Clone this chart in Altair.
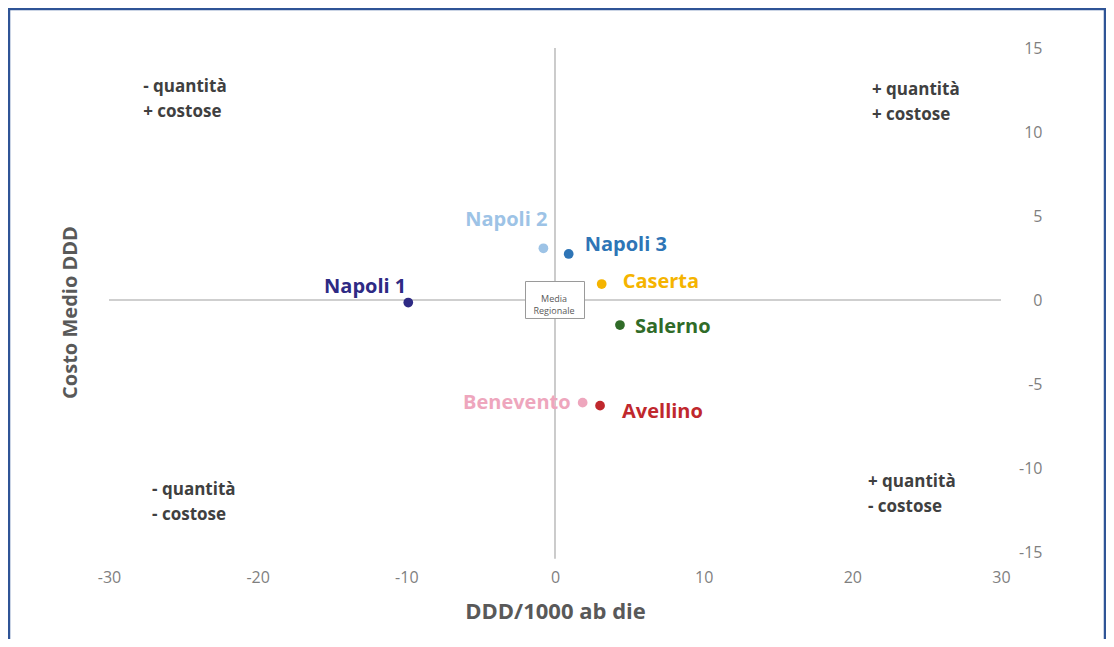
import altair as alt
import pandas as pd

# ---- data ----
names = ["Napoli 1", "Napoli 2", "Napoli 3", "Caserta", "Salerno", "Benevento", "Avellino"]
ddd = [-9.87, -0.78, 0.92, 3.14, 4.37, 1.86, 3.03]          # DDD/1000 ab die
costo = [-0.15, 3.08, 2.74, 0.95, -1.49, -6.11, -6.29]      # Costo Medio DDD
colors = ["#2e2a84", "#9dc3e6", "#2e75b6", "#f5b400", "#306b28", "#eea6bd", "#c0282d"]

quad_text = ["- quantità", "+ costose", "+ quantità", "+ costose",
             "- quantità", "- costose", "+ quantità", "- costose"]
quad_x = [-27.7, -27.7, 21.32, 21.32, -27.1, -27.1, 21.05, 21.05]
quad_y = [12.68, 11.19, 12.5, 11.01, -11.31, -12.8, -10.83, -12.32]

x_ticks = [-30, -20, -10, 0, 10, 20, 30]
y_ticks = [-15, -10, -5, 0, 5, 10, 15]

df = pd.DataFrame({"name": names, "x": ddd, "y": costo})
qdf = pd.DataFrame({"t": quad_text, "x": quad_x, "y": quad_y})
one = pd.DataFrame({"k": [0]})

FONT = "Open Sans"
W, H = 892, 504

xs = alt.Scale(domain=[-30, 30], nice=False, zero=False)
ys = alt.Scale(domain=[-15, 15], nice=False, zero=False)
cs = alt.Scale(domain=names, range=colors)

x_axis = alt.Axis(values=x_ticks, grid=False, domain=False, ticks=False,
                  labelPadding=25, labelBaseline="middle", labelFontSize=16,
                  labelColor="#7f7f7f", labelFont=FONT, labelFlush=False,
                  labelExpr="'' + datum.value",
                  title="DDD/1000 ab die", titleFontSize=22, titleFontWeight="bold",
                  titleColor="#595959", titleFont=FONT, titleBaseline="middle",
                  titleY=59, titleX=W / 2)
y_axis = alt.Axis(values=y_ticks, orient="right", grid=False, domain=False, ticks=False,
                  labelPadding=41, labelAlign="right", labelFontSize=16,
                  labelColor="#7f7f7f", labelFont=FONT, labelFlush=False,
                  labelExpr="'' + datum.value",
                  title="Costo Medio DDD", titleFontSize=20, titleFontWeight="bold",
                  titleColor="#595959", titleFont=FONT, titleAngle=270,
                  titleBaseline="middle", titleAlign="center",
                  titleX=-930.5, titleY=264)

frame = alt.Chart(one).mark_rect(filled=False, stroke="#2f5496", strokeWidth=2.5).encode(
    x=alt.value(-100), x2=alt.value(996), y=alt.value(-39), y2=alt.value(640))

vrule = alt.Chart(one).mark_rule(color="#bfbfbf", strokeWidth=1.6).encode(
    x=alt.datum(0, scale=xs, axis=x_axis),
    y=alt.datum(15, scale=ys, axis=y_axis), y2=alt.datum(-15.4))
hrule = alt.Chart(one).mark_rule(color="#bfbfbf", strokeWidth=1.6).encode(
    y=alt.datum(0, scale=ys, axis=y_axis),
    x=alt.datum(-30, scale=xs, axis=x_axis), x2=alt.datum(30))

box = alt.Chart(one).mark_point(
    shape="M-1,-0.627L1,-0.627L1,0.627L-1,0.627Z", size=59 * 59, filled=True,
    fill="white", stroke="#9a9a9a", strokeWidth=1, opacity=1).encode(
    x=alt.datum(0, scale=xs, axis=x_axis), y=alt.datum(0, scale=ys, axis=y_axis))
box_txt = alt.Chart(one).mark_text(
    text="Media\nRegionale", lineBreak="\n", fontSize=9, lineHeight=12,
    color="#595959", font=FONT, dy=-1.5, dx=-1).encode(
    x=alt.datum(0, scale=xs, axis=x_axis), y=alt.datum(0, scale=ys, axis=y_axis))

points = alt.Chart(df).mark_circle(size=95, opacity=1).encode(
    x=alt.X("x:Q", scale=xs, axis=x_axis),
    y=alt.Y("y:Q", scale=ys, axis=y_axis),
    color=alt.Color("name:N", scale=cs, legend=None))

label_style = {
    "Napoli 1": ("right", -2, -16),
    "Napoli 2": ("right", 4, -28),
    "Napoli 3": ("left", 16, -9),
    "Caserta": ("left", 21, -2),
    "Salerno": ("left", 15, 2),
    "Benevento": ("right", -12, 0),
    "Avellino": ("left", 22, 6),
}
labels = []
for n in names:
    al, dx, dy = label_style[n]
    labels.append(
        alt.Chart(df).transform_filter(alt.datum.name == n).mark_text(
            align=al, baseline="middle", dx=dx, dy=dy, fontSize=20,
            fontWeight="bold", font=FONT).encode(
            x=alt.X("x:Q", scale=xs, axis=x_axis),
            y=alt.Y("y:Q", scale=ys, axis=y_axis),
            text="name:N",
            color=alt.Color("name:N", scale=cs, legend=None)))

quads = alt.Chart(qdf).mark_text(align="left", baseline="middle", fontSize=17,
                                 fontWeight="bold", color="#404040", font=FONT).encode(
    x=alt.X("x:Q", scale=xs, axis=x_axis),
    y=alt.Y("y:Q", scale=ys, axis=y_axis),
    text="t:N")

chart = alt.layer(frame, vrule, hrule, box, box_txt, quads, points, *labels).properties(
    width=W, height=H,
    autosize=alt.AutoSizeParams(type="none"),
    padding={"left": 101, "top": 40, "right": 105, "bottom": 87},
    background="white",
).configure_view(stroke=None)

chart.save("out.html", embed_options={"renderer": "svg", "actions": False})
